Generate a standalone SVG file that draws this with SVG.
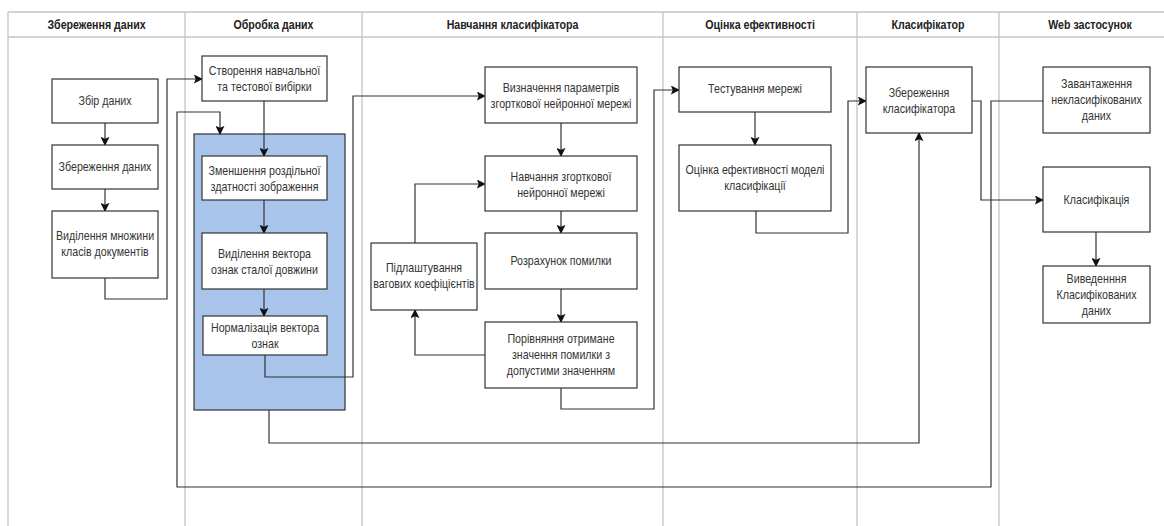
<svg xmlns="http://www.w3.org/2000/svg" width="1164" height="526" viewBox="0 0 1164 526">
<defs>
<marker id="arr" viewBox="0 0 10 10" refX="9" refY="5" markerWidth="9" markerHeight="9" markerUnits="userSpaceOnUse" orient="auto">
<path d="M0,0 L10,5 L0,10 L2,5 z" fill="#111"/>
</marker>
<style>
.lane{stroke:#c4c4c4;stroke-width:1.3;fill:none}
.hd{font-family:"Liberation Sans",Arial,sans-serif;font-size:12.5px;font-weight:bold;fill:#222;text-anchor:middle}
.box{fill:#fff;stroke:#333;stroke-width:1.2}
.grp{fill:#a9c4eb;stroke:#333;stroke-width:1.2}
.t{font-family:"Liberation Sans",Arial,sans-serif;font-size:13px;fill:#333;text-anchor:middle}
.c{fill:none;stroke:#333;stroke-width:1.2}
.ca{fill:none;stroke:#333;stroke-width:1.2;marker-end:url(#arr)}
</style>
</defs>
<rect width="1164" height="526" fill="#fff"/>
<g id="lanes">
<line class="lane" x1="8" y1="12" x2="1164" y2="12"/>
<line class="lane" x1="8" y1="37" x2="1164" y2="37"/>
<line class="lane" x1="8" y1="12" x2="8" y2="526"/>
<line class="lane" x1="185" y1="12" x2="185" y2="526"/>
<line class="lane" x1="362" y1="12" x2="362" y2="526"/>
<line class="lane" x1="663" y1="12" x2="663" y2="526"/>
<line class="lane" x1="857" y1="12" x2="857" y2="526"/>
<line class="lane" x1="999" y1="12" x2="999" y2="526"/>
<text class="hd" transform="translate(96.5,29) scale(0.85,1)">Збереження даних</text>
<text class="hd" transform="translate(273.5,29) scale(0.85,1)">Обробка даних</text>
<text class="hd" transform="translate(512.5,29) scale(0.85,1)">Навчання класифікатора</text>
<text class="hd" transform="translate(760,29) scale(0.85,1)">Оцінка ефективності</text>
<text class="hd" transform="translate(928,29) scale(0.85,1)">Класифікатор</text>
<text class="hd" transform="translate(1090,29) scale(0.85,1)">Web застосунок</text>
</g>
<g id="group-processing"><rect class="grp" x="194" y="134" width="151" height="276"/></g>
<g id="connectors">
<path class="ca" d="M105,123 V145"/>
<path class="ca" d="M105,189 V211"/>
<path class="ca" d="M105,278 V299 H167 V79 H202"/>
<path class="ca" d="M264,101 V156"/>
<path class="ca" d="M264,200 V233"/>
<path class="ca" d="M264,289 V316"/>
<path class="ca" d="M265,355 V377 H353 V96 H485"/>
<path class="ca" d="M1043,101 H991 V487 H177 V112 H220 V134"/>
<path class="ca" d="M269,410 V443 H919 V133"/>
<path class="ca" d="M561,123 V156"/>
<path class="ca" d="M561,211 V233"/>
<path class="ca" d="M561,289 V322"/>
<path class="ca" d="M485,355 H415 V310"/>
<path class="ca" d="M415,243 V184 H485"/>
<path class="ca" d="M561,388 V409 H654 V90 H679"/>
<path class="ca" d="M755,112 V145"/>
<path class="ca" d="M756,211 V233 H848 V101 H866"/>
<path class="ca" d="M972,101 H981 V200 H1043"/>
<path class="ca" d="M1096,232 V266"/>
</g>
<g id="n-zbir"><rect class="box" x="52" y="79" width="106" height="44"/><g transform="translate(105,0) scale(0.82,1)"><text class="t" x="0" y="105.5">Збір даних</text></g></g>
<g id="n-zberezhennya"><rect class="box" x="52" y="145" width="106" height="44"/><g transform="translate(105,0) scale(0.82,1)"><text class="t" x="0" y="171.5">Збереження даних</text></g></g>
<g id="n-vydilennya"><rect class="box" x="52" y="211" width="106" height="67"/><g transform="translate(105,0) scale(0.82,1)"><text class="t" x="0" y="240.5">Виділення множини</text><text class="t" x="0" y="256.5">класів документів</text></g></g>
<g id="n-stvorennya"><rect class="box" x="202" y="56" width="125" height="45"/><g transform="translate(264.5,0) scale(0.82,1)"><text class="t" x="0" y="75.5">Створення навчальної</text><text class="t" x="0" y="91.5">та тестової вибірки</text></g></g>
<g id="n-zmenshennya"><rect class="box" x="202" y="156" width="125" height="44"/><g transform="translate(264.5,0) scale(0.82,1)"><text class="t" x="0" y="175.5">Зменшення роздільної</text><text class="t" x="0" y="191.5">здатності зображення</text></g></g>
<g id="n-vektor"><rect class="box" x="202" y="233" width="125" height="56"/><g transform="translate(264.5,0) scale(0.82,1)"><text class="t" x="0" y="258.5">Виділення вектора</text><text class="t" x="0" y="274.5">ознак сталої довжини</text></g></g>
<g id="n-normalizatsiya"><rect class="box" x="203" y="316" width="124" height="39"/><g transform="translate(265,0) scale(0.82,1)"><text class="t" x="0" y="332.5">Нормалізація вектора</text><text class="t" x="0" y="348.5">ознак</text></g></g>
<g id="n-vyznachennya"><rect class="box" x="485" y="67" width="152" height="56"/><g transform="translate(561,0) scale(0.82,1)"><text class="t" x="0" y="92.5">Визначення параметрів</text><text class="t" x="0" y="108.5">згорткової нейронної мережі</text></g></g>
<g id="n-navchannya"><rect class="box" x="485" y="156" width="152" height="55"/><g transform="translate(561,0) scale(0.82,1)"><text class="t" x="0" y="181.5">Навчання згорткової</text><text class="t" x="0" y="197.5">нейронної мережі</text></g></g>
<g id="n-rozrakhunok"><rect class="box" x="485" y="233" width="152" height="56"/><g transform="translate(561,0) scale(0.82,1)"><text class="t" x="0" y="265.5">Розрахунок помилки</text></g></g>
<g id="n-porivnyannya"><rect class="box" x="485" y="322" width="152" height="66"/><g transform="translate(561,0) scale(0.82,1)"><text class="t" x="0" y="343.5">Порівняння отримане</text><text class="t" x="0" y="359.5">значення помилки з</text><text class="t" x="0" y="375.5">допустими значенням</text></g></g>
<g id="n-pidlashtuvannya"><rect class="box" x="371" y="243" width="106" height="67"/><g transform="translate(424,0) scale(0.82,1)"><text class="t" x="0" y="272.5">Підлаштування</text><text class="t" x="0" y="288.5">вагових коефіцієнтів</text></g></g>
<g id="n-testuvannya"><rect class="box" x="679" y="67" width="152" height="45"/><g transform="translate(755,0) scale(0.82,1)"><text class="t" x="0" y="93.5">Тестування мережі</text></g></g>
<g id="n-otsinka"><rect class="box" x="679" y="145" width="152" height="66"/><g transform="translate(755,0) scale(0.82,1)"><text class="t" x="0" y="174.5">Оцінка ефективності моделі</text><text class="t" x="0" y="190.5">класифікації</text></g></g>
<g id="n-zberezhennya-klas"><rect class="box" x="866" y="67" width="106" height="66"/><g transform="translate(919,0) scale(0.82,1)"><text class="t" x="0" y="97.5">Збереження</text><text class="t" x="0" y="113.5">класифікатора</text></g></g>
<g id="n-zavantazhennya"><rect class="box" x="1043" y="67" width="107" height="66"/><g transform="translate(1096.5,0) scale(0.82,1)"><text class="t" x="0" y="88.5">Завантаження</text><text class="t" x="0" y="104.5">некласифікованих</text><text class="t" x="0" y="120.5">даних</text></g></g>
<g id="n-klasyfikatsiya"><rect class="box" x="1043" y="167" width="107" height="65"/><g transform="translate(1096.5,0) scale(0.82,1)"><text class="t" x="0" y="204.5">Класифікація</text></g></g>
<g id="n-vyvedennya"><rect class="box" x="1043" y="266" width="107" height="57"/><g transform="translate(1096.5,0) scale(0.82,1)"><text class="t" x="0" y="283.5">Виведенння</text><text class="t" x="0" y="299.5">Класифікованих</text><text class="t" x="0" y="315.5">даних</text></g></g>
</svg>
